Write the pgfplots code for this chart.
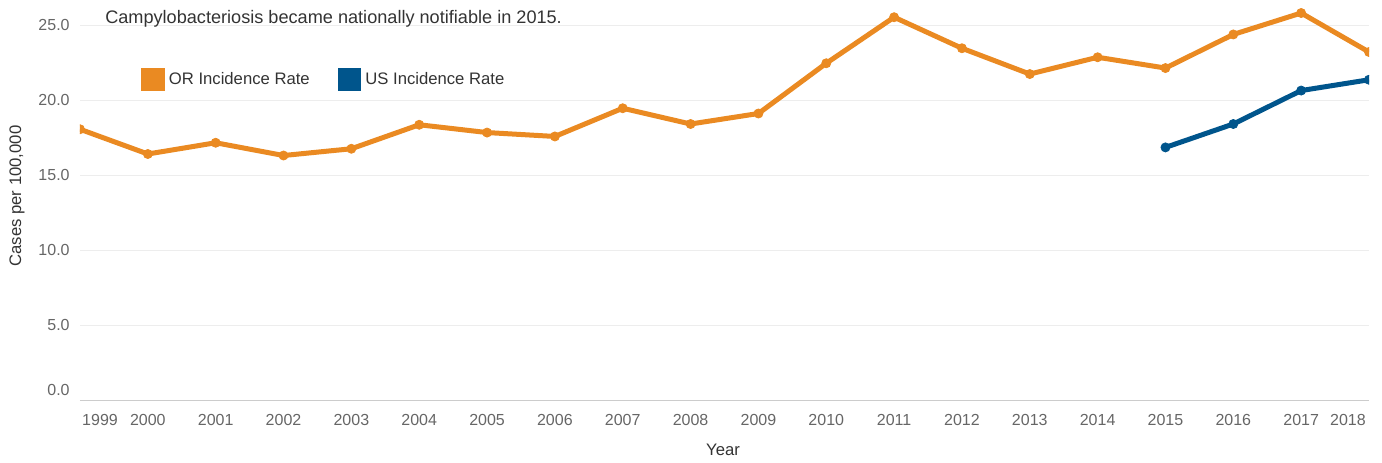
\documentclass[border=0pt]{standalone}
\usepackage{pgfplots}
\pgfplotsset{compat=1.18}
\usepackage{fontspec}
\setmainfont{Liberation Sans}
\definecolor{orc}{HTML}{EA8A22}
\definecolor{usc}{HTML}{00558C}
\definecolor{tk}{HTML}{666666}
\definecolor{tx}{HTML}{333333}
\definecolor{gr}{HTML}{EDEDED}
\definecolor{ax}{HTML}{CCCCCC}
\pgfplotstableread{
year val
1999 18.05
2000 16.40
2001 17.15
2002 16.30
2003 16.75
2004 18.35
2005 17.83
2006 17.57
2007 19.45
2008 18.40
2009 19.10
2010 22.45
2011 25.52
2012 23.45
2013 21.73
2014 22.85
2015 22.13
2016 24.37
2017 25.80
2018 23.20
}\ortable
\pgfplotstableread{
year val
2015 16.84
2016 18.40
2017 20.63
2018 21.35
}\ustable
\begin{document}
\begin{tikzpicture}[x=1pt,y=1pt]
\useasboundingbox (-60,-46.5) rectangle (976.5,300);
\begin{axis}[
  at={(0,0)}, anchor=south west,
  scale only axis, width=966.75pt, height=300pt,
  xmin=1999, xmax=2018, ymin=0, ymax=26.667,
  axis x line*=bottom, axis y line*=left,
  axis line style={-},
  x axis line style={draw=ax, line width=0.75pt},
  y axis line style={draw=none},
  major tick length=0pt,
  tick style={draw=none},
  xtick={1999.295,2000,2001,2002,2003,2004,2005,2006,2007,2008,2009,2010,2011,2012,2013,2014,2015,2016,2017,2017.69},
  xticklabels={1999,2000,2001,2002,2003,2004,2005,2006,2007,2008,2009,2010,2011,2012,2013,2014,2015,2016,2017,2018},
  ytick={5,10,15,20,25},
  yticklabels={5.0,10.0,15.0,20.0,25.0},
  extra y ticks={0.65},
  extra y tick labels={0.0},
  extra y tick style={grid=none},
  ymajorgrids,
  grid style={draw=gr, line width=0.75pt},
  xticklabel style={text=tk, font=\fontsize{12}{14}\selectfont, yshift=-7pt},
  yticklabel style={text=tk, font=\fontsize{12}{14}\selectfont, xshift=-4.25pt},
  legend style={at={(rel axis cs:0,1)}, anchor=west, xshift=45.75pt, yshift=-59.6pt,
    draw=none, fill=none, legend columns=2, inner sep=0pt,
    nodes={inner sep=0pt, text=tx, font=\fontsize{12.5}{15}\selectfont},
    /tikz/every even column/.append style={column sep=21pt},
    /tikz/every odd column/.append style={column sep=3pt}},
  legend cell align=left,
  clip=true,
  clip marker paths=true,
]
\addplot[orc, line width=3.75pt, mark=*, mark size=3.4pt, mark options={solid, fill=orc, draw=orc, line width=0.6pt},
  legend image code/.code={\fill[orc] (0pt,-7pt) rectangle (14pt,7pt);}]
  table[x=year,y=val]{\ortable};
\addlegendentry{OR Incidence Rate}
\addplot[usc, line width=3.75pt, mark=*, mark size=3.4pt, mark options={solid, fill=usc, draw=usc, line width=0.6pt},
  legend image code/.code={\fill[usc] (0pt,-7pt) rectangle (14pt,7pt);}]
  table[x=year,y=val]{\ustable};
\addlegendentry{US Incidence Rate}
\end{axis}
\node[anchor=west, inner sep=0pt, text=tx, font=\fontsize{13.6}{16}\selectfont] at (18.75,285.75) {Campylobacteriosis became nationally notifiable in 2015.};
\node[rotate=90, inner sep=0pt, text=tx, font=\fontsize{12.5}{15}\selectfont] at (-47.25,153) {Cases per 100,000};
\node[inner sep=0pt, text=tx, font=\fontsize{12.5}{15}\selectfont] at (482.25,-37.5) {Year};
\end{tikzpicture}
\end{document}
